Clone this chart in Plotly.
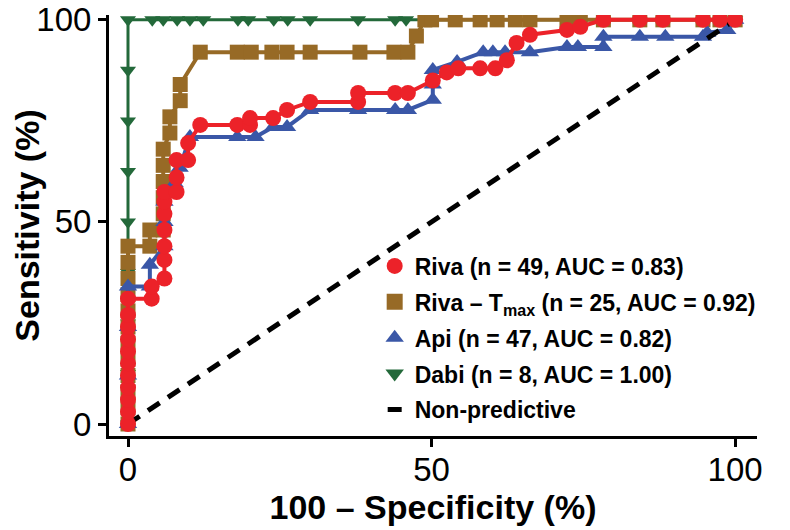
import plotly.graph_objects as go

# ROC curves (x = 100 - specificity, y = sensitivity, both %)
riva_x = [0, 0, 0, 0, 0, 0, 0, 0, 0, 0, 0, 3.9, 3.9, 6.0, 6.0, 6.0, 6.0, 6.0, 6.0, 6.0,
          8.0, 8.0, 8.0, 9.9, 9.9, 11.9, 18.0, 20.1, 20.1, 23.9, 26.2, 30.0, 37.9, 37.9,
          44.0, 46.1, 50.2, 52.5, 54.4, 58.0, 60.5, 62.4, 64.0, 66.2, 72.3, 74.5, 78.3,
          84.3, 88.1, 94.7, 97.5, 100]
riva_y = [0, 3, 6, 9, 12, 15, 18, 21, 24, 27, 31, 31, 34, 36, 40.6, 44, 48, 52, 55, 57.4,
          57.4, 61, 65.3, 65.3, 69.5, 74, 74, 74, 75.7, 75.7, 77.7, 79.7, 79.7, 81.9,
          81.9, 81.9, 85, 87, 88, 88, 88, 90, 94.3, 96.3, 97.5, 98.3, 100,
          100, 100, 100, 100, 100]

tmax_x = [0, 0, 0, 0, 0, 0, 0, 0, 0, 0, 0, 0, 3.6, 3.6, 5.8, 5.8, 5.8, 5.8, 5.8, 5.8,
          6.9, 6.9, 8.6, 8.6, 11.9, 18.0, 20.3, 23.7, 26.2, 30.0, 38.2, 43.8, 46.1, 47.5,
          48.9, 50.0, 53.9, 58.0, 60.8, 63.8, 66.2, 72.3, 74.5, 78.3, 84.3, 88.1, 94.7,
          97.5, 100]
tmax_y = [0, 4, 8, 12, 16, 20, 24, 28, 32, 36, 40, 44, 44, 48, 48, 52, 56, 60, 64, 68,
          72, 76, 80, 84, 92, 92, 92, 92, 92, 92, 92, 92, 92, 96,
          100, 100, 100, 100, 100, 100, 100, 100, 100, 100, 100, 100, 100,
          100, 100]

api_x = [0, 0, 0, 0, 3.6, 3.6, 6.0, 6.0, 6.0, 7.7, 8.5, 10.2, 18.0, 21.0, 23.9, 26.2, 30.0,
         37.9, 44.0, 46.1, 50.2, 50.2, 50.2, 54.2, 58.5, 60.1, 62.1, 66.2, 72.3, 74.1,
         78.3, 78.3, 84.3, 88.5, 94.7, 95.4, 98.7, 100]
api_y = [0, 12, 24, 34, 34, 39.4, 44, 50, 55, 59.6, 63.4, 71, 71, 71, 73.5, 73.5, 77.7,
         77.7, 77.7, 77.7, 80.2, 84, 87.6, 89.6, 92, 92, 92, 92, 93.3, 93.3,
         93.3, 95.8, 95.8, 95.8, 95.8, 96.8, 97.5, 100]

dabi_x = [0, 0, 0, 0, 0, 0, 0, 0, 0, 4.0, 5.8, 8.1, 10.2, 12.4, 18.1, 19.8, 24.0, 26.3,
          30.0, 37.9, 44.0, 45.8, 100]
dabi_y = [0, 12.5, 25, 37.5, 50, 62.5, 75, 87.5, 100, 100, 100, 100, 100, 100, 100, 100,
          100, 100, 100, 100, 100, 100, 100]

chance_x = [0, 100]
chance_y = [0, 100]

names = ["Riva (n = 49, AUC = 0.83)",
         "Riva \u2013 T<sub>max</sub> (n = 25, AUC = 0.92)",
         "Api (n = 47, AUC = 0.82)",
         "Dabi (n = 8, AUC = 1.00)",
         "Non-predictive"]

RED = "#ec2229"
BROWN = "#976a26"
BLUE = "#3a57a7"
GREEN = "#23693a"
FONT = "Liberation Sans, Arial, sans-serif"

fig = go.Figure()

# drawing order: green, brown, blue, chance line, red on top
fig.add_trace(go.Scatter(x=dabi_x, y=dabi_y, mode="lines+markers", showlegend=False,
                         line=dict(color=GREEN, width=3),
                         marker=dict(symbol="triangle-down", size=14, color=GREEN)))
fig.add_trace(go.Scatter(x=tmax_x, y=tmax_y, mode="lines+markers", showlegend=False,
                         line=dict(color=BROWN, width=4),
                         marker=dict(symbol="square", size=15, color=BROWN)))
fig.add_trace(go.Scatter(x=api_x, y=api_y, mode="lines+markers", showlegend=False,
                         line=dict(color=BLUE, width=4),
                         marker=dict(symbol="triangle-up", size=16, color=BLUE)))
fig.add_trace(go.Scatter(x=chance_x, y=chance_y, mode="lines", showlegend=False,
                         line=dict(color="black", width=5, dash="14px,10px")))
fig.add_trace(go.Scatter(x=riva_x, y=riva_y, mode="lines+markers", showlegend=False,
                         line=dict(color=RED, width=4),
                         marker=dict(symbol="circle", size=16, color=RED)))

# legend entries (markers only, like the original)
leg_symbols = ["circle", "square", "triangle-up", "triangle-down", "line-ew"]
leg_colors = [RED, BROWN, BLUE, GREEN, "black"]
leg_sizes = [16, 16, 16, 16, 10]
for i, (nm, sym, col, sz) in enumerate(zip(names, leg_symbols, leg_colors, leg_sizes)):
    fig.add_trace(go.Scatter(x=[None], y=[None], mode="markers", name=nm,
                             legendgroup=str(i),
                             marker=dict(symbol=sym, size=sz, color=col,
                                         line=dict(color=col, width=5 if sym == "line-ew" else 0))))

# page body adds an 8px offset, so the figure is a bit smaller than the window
fig.update_layout(
    width=782, height=522,
    margin=dict(l=101, r=33, t=7, b=94),
    paper_bgcolor="white", plot_bgcolor="white",
    font=dict(family=FONT, color="black"),
    legend=dict(x=0.41, y=0.455, xanchor="left", yanchor="top",
                font=dict(size=23, family=FONT, color="black", weight="bold"),
                tracegroupgap=3, bgcolor="rgba(0,0,0,0)"),
    xaxis=dict(range=[-3.13, 103.6], tickvals=[0, 50, 100], showgrid=False, zeroline=False,
               automargin=False,
               showline=True, linecolor="black", linewidth=3,
               ticks="outside", ticklen=8, tickwidth=2.5, tickcolor="black",
               ticklabelstandoff=-6, ticklabeloverflow="allow",
               tickfont=dict(size=33, family=FONT),
               title=dict(text="<b>100 \u2013 Specificity (%)</b>", standoff=2,
                          font=dict(size=34, family=FONT))),
    yaxis=dict(range=[-2.97, 101.2], tickvals=[0, 50, 100], showgrid=False, zeroline=False,
               automargin=False,
               showline=True, linecolor="black", linewidth=3,
               ticks="outside", ticklen=8, tickwidth=2.5, tickcolor="black",
               ticklabeloverflow="allow",
               tickfont=dict(size=33, family=FONT),
               title=dict(text="<b>Sensitivity (%)</b>", standoff=6,
                          font=dict(size=34, family=FONT))),
)

fig.write_html("out.html")
